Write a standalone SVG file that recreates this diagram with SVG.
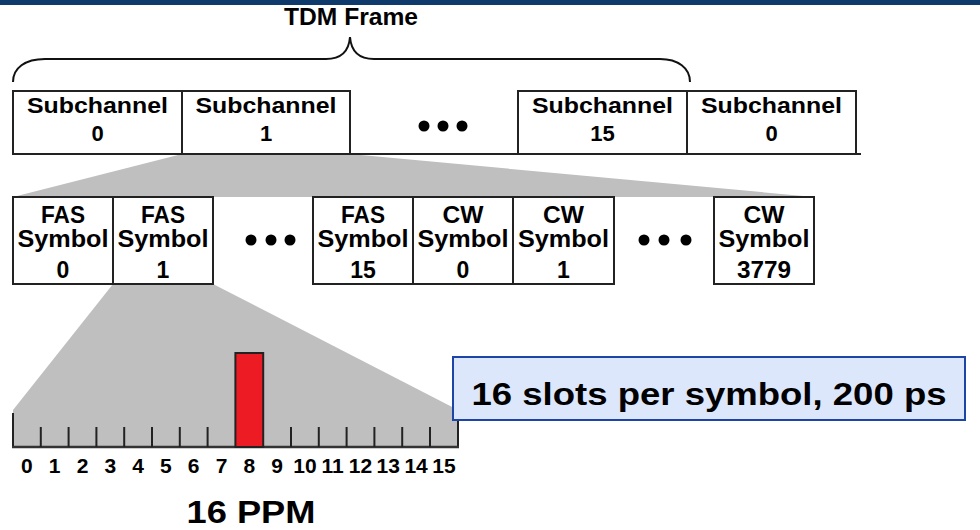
<svg xmlns="http://www.w3.org/2000/svg" width="980" height="530" viewBox="0 0 980 530">
<defs>
<style>
text{font-family:"Liberation Sans",Arial,sans-serif;font-weight:bold;fill:#000;text-anchor:middle}
.box{fill:#fff;stroke:#222;stroke-width:2}
.t21{font-size:22px}
.t22{font-size:23px}
.t20{font-size:21px}
.dot{fill:#000}
.zoom{fill:#bfbfbf;stroke:none}
.tick{stroke:#222;stroke-width:2}
</style>
</defs>
<rect x="0" y="0" width="980" height="5" fill="#0e3b6c"/>

<g id="frame-label">
<text class="t22" x="351" y="25" textLength="134" lengthAdjust="spacingAndGlyphs">TDM Frame</text>
<path d="M13,82 C13,68 25,59 45,59 L326,59 C342,59 349,50 350,37 C351,50 358,59 374,59 L660,59 C678,59 690,68 690,82" fill="none" stroke="#111" stroke-width="2"/>
</g>

<g id="connectors">
<polygon class="zoom" points="182,154 350,154 814,197 13,197"/>
<polygon class="zoom" points="113,284 213,284 458,410 458,447 13,447 13,410"/>
</g>

<g id="row1-line"><line x1="13" y1="154" x2="861" y2="154" stroke="#222" stroke-width="2"/></g>
<g id="sub0">
<rect class="box" x="13" y="91" width="169" height="63"/>
<text class="t21" x="97.5" y="113" textLength="141" lengthAdjust="spacingAndGlyphs">Subchannel</text>
<text class="t21" x="97.5" y="141">0</text>
</g>
<g id="sub1">
<rect class="box" x="182" y="91" width="168" height="63"/>
<text class="t21" x="266" y="113" textLength="141" lengthAdjust="spacingAndGlyphs">Subchannel</text>
<text class="t21" x="266" y="141">1</text>
</g>
<g id="dots1">
<circle class="dot" cx="424" cy="126" r="5.5"/><circle class="dot" cx="443" cy="126" r="5.5"/><circle class="dot" cx="462" cy="126" r="5.5"/>
</g>
<g id="sub15">
<rect class="box" x="518" y="91" width="169" height="63"/>
<text class="t21" x="602.5" y="113" textLength="141" lengthAdjust="spacingAndGlyphs">Subchannel</text>
<text class="t21" x="602.5" y="141">15</text>
</g>
<g id="sub0b">
<rect class="box" x="687" y="91" width="169" height="63"/>
<text class="t21" x="771.5" y="113" textLength="141" lengthAdjust="spacingAndGlyphs">Subchannel</text>
<text class="t21" x="771.5" y="141">0</text>
</g>

<g id="fas0">
<rect class="box" x="13" y="197" width="100" height="87"/>
<text class="t22" x="63" y="223" textLength="44" lengthAdjust="spacingAndGlyphs">FAS</text>
<text class="t22" x="63" y="247" textLength="91" lengthAdjust="spacingAndGlyphs">Symbol</text>
<text class="t22" x="63" y="278">0</text>
</g>
<g id="fas1">
<rect class="box" x="113" y="197" width="100" height="87"/>
<text class="t22" x="163" y="223" textLength="44" lengthAdjust="spacingAndGlyphs">FAS</text>
<text class="t22" x="163" y="247" textLength="91" lengthAdjust="spacingAndGlyphs">Symbol</text>
<text class="t22" x="163" y="278">1</text>
</g>
<g id="dots2">
<circle class="dot" cx="251" cy="240" r="5.5"/><circle class="dot" cx="271" cy="240" r="5.5"/><circle class="dot" cx="290" cy="240" r="5.5"/>
</g>
<g id="fas15">
<rect class="box" x="313" y="197" width="100" height="87"/>
<text class="t22" x="363" y="223" textLength="44" lengthAdjust="spacingAndGlyphs">FAS</text>
<text class="t22" x="363" y="247" textLength="91" lengthAdjust="spacingAndGlyphs">Symbol</text>
<text class="t22" x="363" y="278">15</text>
</g>
<g id="cw0">
<rect class="box" x="413" y="197" width="100" height="87"/>
<text class="t22" x="463" y="223" textLength="41" lengthAdjust="spacingAndGlyphs">CW</text>
<text class="t22" x="463" y="247" textLength="91" lengthAdjust="spacingAndGlyphs">Symbol</text>
<text class="t22" x="463" y="278">0</text>
</g>
<g id="cw1">
<rect class="box" x="513" y="197" width="101" height="87"/>
<text class="t22" x="563.5" y="223" textLength="41" lengthAdjust="spacingAndGlyphs">CW</text>
<text class="t22" x="563.5" y="247" textLength="91" lengthAdjust="spacingAndGlyphs">Symbol</text>
<text class="t22" x="563.5" y="278">1</text>
</g>
<g id="dots3">
<circle class="dot" cx="644" cy="240" r="5.5"/><circle class="dot" cx="664" cy="240" r="5.5"/><circle class="dot" cx="686" cy="240" r="5.5"/>
</g>
<g id="cw3779">
<rect class="box" x="714" y="197" width="100" height="87"/>
<text class="t22" x="764" y="223" textLength="41" lengthAdjust="spacingAndGlyphs">CW</text>
<text class="t22" x="764" y="247" textLength="91" lengthAdjust="spacingAndGlyphs">Symbol</text>
<text class="t22" x="764" y="278" textLength="54" lengthAdjust="spacingAndGlyphs">3779</text>
</g>

<g id="ppm">
<line class="tick" x1="13" y1="413" x2="13" y2="448" stroke-width="2.5"/>
<line class="tick" x1="458" y1="410" x2="458" y2="448"/>
<line x1="12" y1="447" x2="459" y2="447" stroke="#333" stroke-width="2.5"/>
<g>
<line class="tick" x1="40.8" y1="427" x2="40.8" y2="447"/>
<line class="tick" x1="68.6" y1="427" x2="68.6" y2="447"/>
<line class="tick" x1="96.4" y1="427" x2="96.4" y2="447"/>
<line class="tick" x1="124.2" y1="427" x2="124.2" y2="447"/>
<line class="tick" x1="152" y1="427" x2="152" y2="447"/>
<line class="tick" x1="179.8" y1="427" x2="179.8" y2="447"/>
<line class="tick" x1="207.6" y1="427" x2="207.6" y2="447"/>
<line class="tick" x1="291" y1="427" x2="291" y2="447"/>
<line class="tick" x1="318.8" y1="427" x2="318.8" y2="447"/>
<line class="tick" x1="346.6" y1="427" x2="346.6" y2="447"/>
<line class="tick" x1="374.4" y1="427" x2="374.4" y2="447"/>
<line class="tick" x1="402.2" y1="427" x2="402.2" y2="447"/>
<line class="tick" x1="430" y1="427" x2="430" y2="447"/>
</g>
<rect x="235.4" y="353" width="27.8" height="94" fill="#ed1c24" stroke="#222" stroke-width="2"/>
<g class="t20">
<text x="26.9" y="473">0</text>
<text x="54.7" y="473">1</text>
<text x="82.5" y="473">2</text>
<text x="110.3" y="473">3</text>
<text x="138.1" y="473">4</text>
<text x="165.9" y="473">5</text>
<text x="193.7" y="473">6</text>
<text x="221.5" y="473">7</text>
<text x="249.3" y="473">8</text>
<text x="277.1" y="473">9</text>
<text x="304.9" y="473">10</text>
<text x="332.7" y="473">11</text>
<text x="360.5" y="473">12</text>
<text x="388.3" y="473">13</text>
<text x="416.1" y="473">14</text>
<text x="443.9" y="473">15</text>
</g>
<text x="251" y="523" style="font-size:32px" textLength="129" lengthAdjust="spacingAndGlyphs">16 PPM</text>
</g>

<g id="callout">
<rect x="453" y="357" width="512" height="63" fill="#dde7fb" stroke="#1d45a8" stroke-width="2"/>
<text x="709" y="405" style="font-size:32px" textLength="475" lengthAdjust="spacingAndGlyphs">16 slots per symbol, 200 ps</text>
</g>
</svg>
